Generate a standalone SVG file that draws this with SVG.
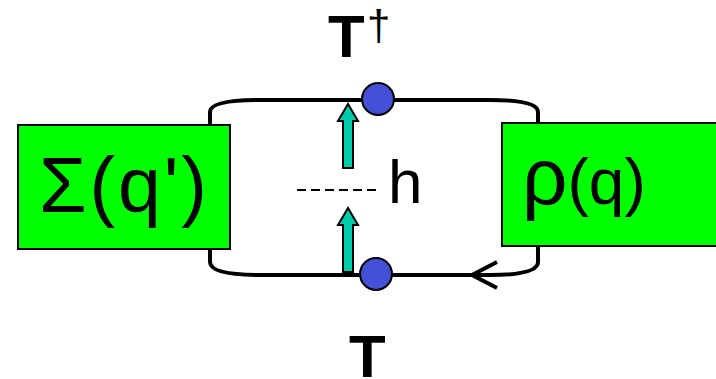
<svg xmlns="http://www.w3.org/2000/svg" width="716" height="379" viewBox="0 0 716 379">
<style>
.box{fill:#00FF00;stroke:#000;stroke-width:2}
.line{fill:none;stroke:#000;stroke-width:4}
.dot{fill:#4450D5;stroke:#000;stroke-width:2}
.arr{fill:#00CCAA;stroke:#000;stroke-width:2}
.t{font-family:"Liberation Sans",Arial,sans-serif;fill:#000}
</style>
<rect width="716" height="379" fill="#fff"/>
<g id="connectors">
<path class="line" d="M210,125 V112 Q210,100 260,100 H490 Q538,100 538,112 V123"/>
<path class="line" d="M210,249 V262 Q210,275 260,275 H490 Q538,275 538,262 V246"/>
<path class="line" d="M497,262 L472,275 L497,288"/>
<line x1="297" y1="190" x2="380" y2="190" stroke="#000" stroke-width="2" stroke-dasharray="9,5"/>
</g>
<g id="sigma">
<rect class="box" x="18" y="125" width="212" height="124"/>
<text class="t" x="39" y="212" font-size="77" textLength="168" lengthAdjust="spacing">Σ(q')</text>
</g>
<g id="rho">
<rect class="box" x="502" y="123" width="216" height="123"/>
<text class="t" x="522" y="204"><tspan font-size="80">ρ</tspan><tspan font-size="64">(q)</tspan></text>
</g>
<g id="Tdag">
<circle class="dot" cx="378" cy="99" r="16"/>
<path class="arr" d="M343,168 V121 H338 L348,104 L358,121 H353 V168 Z"/>
<text class="t" x="328" y="57" font-size="60" font-weight="bold">T</text>
<text class="t" x="367" y="40" font-size="42">†</text>
</g>
<g id="T">
<circle class="dot" cx="376" cy="274" r="16"/>
<path class="arr" d="M343,272 V225 H338 L348,208 L358,225 H353 V272 Z"/>
<text class="t" x="349" y="377" font-size="60" font-weight="bold">T</text>
</g>
<g id="h">
<text class="t" x="388" y="203" font-size="62">h</text>
</g>
</svg>
